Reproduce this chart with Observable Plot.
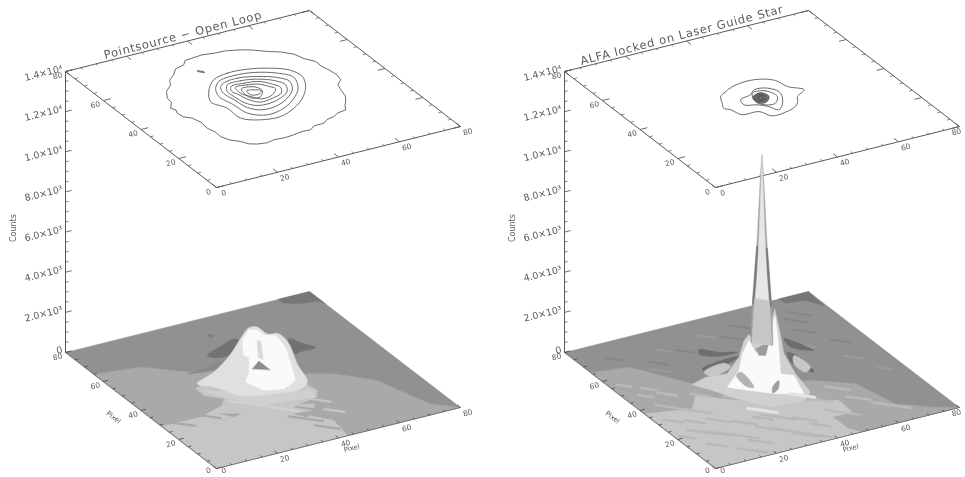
<!DOCTYPE html>
<html><head><meta charset="utf-8">
<style>html,body{margin:0;padding:0;background:#fff}svg{display:block;filter:blur(0.75px)}</style>
<script src="https://cdn.jsdelivr.net/npm/d3@7"></script>
<script src="https://cdn.jsdelivr.net/npm/@observablehq/plot@0.6"></script>
</head><body><div id="chart"></div>
<script>
// ---------- axis values ----------
const pixelMajor=[0,20,40,60,80];
const pixelMinor=[5,10,15,25,30,35,45,50,55,65,70,75];
const countMajor=[0,2000,4000,6000,8000,10000,12000,14000];
const countMinor=[500,1000,1500,2500,3000,3500,4500,5000,5500,6500,7000,7500,8500,9000,9500,10500,11000,11500,12500,13000,13500];
const countLabels=["0","2.0×10³","4.0×10³","6.0×10³","8.0×10³","1.0×10⁴","1.2×10⁴","1.4×10⁴"];
const titles=["Pointsource − Open Loop","ALFA locked on Laser Guide Star"];
const floorCorners=[[0,0],[80,0],[80,80],[0,80]];

// ---------- left: contours on the top plane (pixel, pixel) ----------
const leftContourOuter=[[35.7,70.5],[39,70.9],[42.6,70.2],[46,70],[50.3,68.5],[53,67],[56.4,64.2],[59.5,62.2],[62.1,59.3],[63.2,55.6],[65.1,52.7],[65,49.5],[65.7,46.6],[66.1,43],[65.4,39.9],[63.2,37.8],[62.2,34.7],[61.4,31],[59.7,28],[58.2,26],[57,23.6],[54,23],[51.9,21.7],[49.2,21],[47.3,19.5],[44,19.4],[41.9,17.8],[39,18],[36.1,17.4],[33,17],[29.6,17.4],[27,16.7],[24.1,17.3],[22,18.6],[20.8,20.8],[18.6,23],[17.4,26],[17.6,29],[16.8,32.1],[17.2,36],[16.3,39.3],[14.6,41],[14.2,43.8],[14.9,45.5],[14.2,47.3],[16.2,50],[16.6,52.9],[18.6,56.5],[21.7,59.4],[23,62],[25.7,64.2],[28,67],[31.4,68.1],[33,70]];
const leftContour2=[[34,56.4],[39.5,58.1],[45.7,57.6],[51,55.5],[55.8,51.8],[57,46.6],[54.6,41],[50,35.3],[44.7,31.2],[38.7,28.6],[32.7,29.5],[28.3,33],[28.2,39.9],[26.2,45.5],[29.6,51.8]];
const leftContour3=[[34.7,54.9],[40.4,56],[46.3,55],[51.9,51.6],[54.6,47.2],[52.2,41.1],[47.9,36.4],[42.2,32.5],[36,31.2],[31.6,34.7],[30.9,40.8],[29.9,47.1],[31.6,51.5]];
const leftContour4=[[35.3,53.4],[40.4,54.2],[45.8,52.5],[50.5,49.3],[52.3,45.6],[50.2,41],[46.3,37.3],[40.7,34.5],[35.9,34.7],[33.4,37.7],[32.6,43.4],[32.1,48.2],[33.2,51.5]];
const leftContour5=[[35.7,52],[40.3,52.4],[45,51.1],[49,47.8],[50.2,44.5],[48.4,40.8],[44.6,38.2],[40.5,36.9],[36.5,37.4],[34.4,40.1],[33.6,45.1],[33.6,48.6]];
const leftContour6=[[36.2,50.7],[40.4,50.7],[44.6,49.7],[47.1,46.5],[48.1,43.7],[46.4,40.7],[42.6,39.2],[38.4,38.7],[36.3,41.4],[35.4,45.3],[34.8,48.4]];
const leftContour7=[[36.9,49.6],[40.7,49.4],[43.8,48.3],[45.5,45.8],[46.4,43.7],[43.7,41],[39.9,40.2],[37.8,42.9],[36.3,46]];
const leftContour8=[[37.9,48.1],[40.9,48],[42.3,46.8],[42.5,44.4],[40.2,41.6],[37.6,41.9],[37.1,44.5]];
const leftContour9=[[38.6,46.4],[40.7,46],[42.2,44.5],[40.6,43.1],[38.3,43.8]];
const leftSpeck=[[32.8,62.8],[34.1,61.4],[34.1,61.9],[32.8,63.2]];

// ---------- right: contours on the top plane ----------
const rightContourOuter=[[30.6,46.7],[33,48.3],[35.1,49.6],[40.4,51.2],[45.6,50.7],[49.3,47.9],[50.3,43.2],[53.4,39.3],[49.6,36.7],[48,34],[45.9,31.8],[41.6,30.1],[37.1,29.9],[35.2,33.9],[30,34.4],[28.8,38.5],[27.6,40.2],[28.8,43]];
const rightContour2=[[34.5,42.4],[38.5,43.7],[41,45.8],[44.8,45],[46.5,40.6],[43.2,34.4],[40.7,32.2],[39.3,35.2],[37,37.6],[33.7,39.3]];
const rightContour3=[[39.5,44.3],[43.5,43.8],[44.6,39.3],[42,36.1],[39,36.5],[37.6,39.6]];
const rightCoreA=[[38.1,41.6],[40.5,43.3],[42.3,42.6],[42.3,40.1],[39.9,37.9],[38,38.7]];
const rightCoreB=[[38.5,41.4],[40.4,42.7],[41.8,42.2],[41.8,40.1],[39.9,38.6],[38.5,39.1]];
const rightCoreC=[[38.9,41.2],[40.4,42],[41.3,41.5],[41.3,40.2],[40,39.2],[39.1,39.7]];
const rightCoreD=[[39.4,40.9],[40.4,41.3],[40.8,40.9],[40.7,40.2],[39.9,40],[39.3,40.3]];

// ---------- left: shaded surface regions ----------
const leftBackCorner=[[69.7,80],[80,80],[80,71.5],[78.8,74],[73.8,74.8],[69.9,77.3]];
const leftMidBand=[[0,65],[13.9,62.6],[23.8,54],[29.3,52.2],[51.3,38.3],[59.6,34],[68.1,24.9],[71.9,11.5],[73.8,5.8],[80,0],[0,0]];
const leftFront=[[0,29],[12.6,28.8],[21.7,32.1],[24.3,35.3],[20.4,39.6],[20.5,44.2],[30.7,49.2],[49.2,34.9],[50.1,27.5],[45.4,20.8],[40,15.6],[44.5,9.7],[43,0],[0,0]];
const leftApron=[[21.2,42.7],[26.4,33.5],[33.2,26.7],[47.5,24.3],[49,29.2],[38,31],[28,38]];
const leftMountain=[[22.5,46.6],[30.4,50.5],[40.4,57.8],[47.7,64.4],[53.3,69],[55.6,68.3],[55.9,63.5],[58.8,62],[58.1,55.5],[53.7,44],[50.3,33.1],[46.5,30.5],[38.3,31.4],[29.5,34.9],[25.6,42.7]];
const leftCore=[[47.6,63.3],[52.7,68],[54.8,66.9],[54.6,63.1],[57.5,61.5],[56.2,54.2],[52.1,44.8],[47.9,35.5],[42.4,32.7],[36.9,34.4],[35,41.2],[39.1,45.9],[43.9,53.7],[43.2,55.3]];
const leftRidge=[[51.3,61.3],[52.1,60.7],[46.6,50.5],[46,52.2]];
const leftTriangle=[[41,47.2],[45.1,50.4],[45,44.4]];
const leftWingA=[[34.1,60],[40.3,63],[46.1,65.2],[46.8,63.7],[40.4,57.8],[35.8,57.5]];
const leftWingB=[[59.7,58.1],[61.6,54.1],[63.4,49.9],[59,49.9],[56.1,49.6]];
const leftBlob=[[40.8,70.8],[42.4,69.5],[40.8,69.1]];
const leftShadow=[[23.3,53.1],[30.4,53.9],[37.7,55.2],[32.3,51.8]];
const leftPatchA=[[18.6,27.9],[23.6,25.3],[20.9,24.5]];
const leftPatchB=[[36.8,18.4],[42.8,17.5],[39,14.9]];
const leftPatchC=[[41.7,22.7],[47.9,24],[45.8,20.6]];
const leftMidStreaks=[[20.2,37.5,3],[42.5,18.8,3],[38.1,14.3,3.5],[40.7,7.1,2.5],[13.2,29.7,4],[5.5,27.9,3]];
const leftLightStreaks=[[47.7,21.9,2],[47.8,14.9,2]];
const leftPaleStreaks=[[28.9,29.5,4],[35.9,22.3,3]];

// ---------- right: shaded surface regions ----------
const rightBackCorner=[[70.3,80],[80,80],[79.3,70.7],[76.4,75.7],[70.6,76.9]];
const rightMidBand=[[0,66],[11.2,64],[21.5,47.1],[52.3,33.2],[62,25.9],[65.4,10.2],[73.4,3.7],[80,0],[0,0]];
const rightFront=[[0.3,37.6],[13.5,34.1],[18.6,40.6],[27.7,32.4],[44.2,23.7],[52.5,19.4],[52,11.5],[45.5,11.6],[45.8,3.3],[48,0],[0,0]];
const rightMountain=[[21.3,46.8],[27,48.8],[33.4,47.8],[41.7,54.9],[48.3,62.9],[51.4,65.4],[50.1,59.7],[57.7,64.9],[66.1,75.4],[60.3,63.5],[53.9,50.8],[50.3,38.9],[48.1,27.4],[44.4,24],[33.8,24.6],[28.6,31.9],[24.3,41]];
const rightCore=[[49.5,62.3],[47.4,55.3],[55,60.5],[64,71.9],[56.8,58.5],[46.6,40.8],[49.4,38.2],[46,27.4],[38.9,31.1],[33.4,36.3],[29.1,40.8],[37.4,48],[43.6,56.2]];
const rightDiamond=[[48.5,57.1],[53.9,58.8],[48.8,52.3],[47.2,53.2]];
const rightHole=[[40.3,34.9],[44,37.6],[41.2,33.3],[38.5,31.8]];
const rightArc=[[37.3,46.9],[35.7,37.3],[34.1,38.2],[35.1,45.7]];
const rightFanA=[[34.1,63.9],[38.3,60.1],[42.9,57.7],[36.9,57.9],[32.8,61.8]];
const rightFanB=[[28.8,53.6],[35.4,55.4],[41.9,55.3],[36.4,52.6],[28.8,49.7]];
const rightFanC=[[58.7,58.6],[62.4,48.6],[57.7,53.4]];
const rightFanD=[[55.2,51.2],[56.8,45.8],[55.4,37.3],[53.6,40.6],[52.9,45.6]];
const rightFanLightA=[[28.2,51.7],[36,53.7],[36.6,51.1],[28.8,48.3]];
const rightFanLightB=[[55.8,48.6],[56.2,40.4],[53.3,38.4],[53.1,44.3]];

// streaks: pixel x, pixel y, half length in pixels
const rightMidStreaks=[[8.5,20.7,3],[16.5,14.2,4],[29.6,10.7,3.5],[14.9,4.6,3],[36.3,3.7,2.5],[32.3,18.5,3.5],[16.3,24.6,2.5],[5,30,2],[10,27,2],[22,20,2.5],[26,14,2.5],[33,6,2.5],[20,8,2.5],[8,12,2],[12,18,2.5],[28,20,2],[40,9,2],[38,14,2.5],[3,20,1.5]];
const rightLightStreaks=[[13,33.2,4],[49.5,12.8,3.5],[6,46.8,1.5],[7.6,38.8,2],[20,40,2],[12,45,2],[4,55,1.5],[58,18,2.5],[62,12,2],[56,26,2.5],[66,8,2],[28,34,2.5],[9,50,1.5],[48,22,2.5]];
const rightBrightStreaks=[[30.3,24.1,3],[45,26.7,2.5]];
const rightDarkStreaks=[[46.8,64.9,3],[67.5,66.6,2.5],[70.5,69.6,2.5],[20,62,2],[30,65,2],[52,70,2.5],[60,70,2],[66,60,2.5],[72,50,2],[10,70,1.5]];
const rightBaseStreaks=[[18,58,2],[62,52,2],[40,70,2],[70,40,2],[74,30,1.5],[25,68,1.5]];

// ---------- right: central spike (counts, half width in pixels) ----------
const spikeCounts=[11200,9800,8100,6500,5100,4000,2300,1800];
const spikeHalfWidth=[0.08,0.4,0.75,1.1,1.55,1.9,2.2,2.2];
const spikeCoreWidth=[0,0.2,0.45,0.72,1.05,1.4,1.8,1.9];
const spikeStripCounts=[6600,5100,3700];
const spikeStripOuter=[1.12,1.55,1.95];
const spikeStripInner=[0.72,1.05,1.4];
const spikeFootCounts=[4000,2300,1800];
const spikeFootWidth=[1.5,1.9,2];
const spikeX=40, spikeY=40;

// ---------- view of the data cube ----------
const perPixelX=[3.05,-0.7625], perPixelY=[-1.8875,-1.45], perCount=-0.02007;
const panels=[{ox:216,oy:468},{ox:715,oy:468}];
const TOP=14000, MAXP=80;
const sx=(p,x,y)=>p.ox+perPixelX[0]*x+perPixelY[0]*y;
const sy=(p,x,y,z=0)=>p.oy+perPixelX[1]*x+perPixelY[1]*y+perCount*z;

const gD="#777", gB="#919191", gM="#a9a9a9", gL="#c6c6c6", gA="#d0d0d0", gP="#e0e0e0", gW="#fafafa", ink="#5a5a5a";
const FONT="DejaVu Sans";

function poly(p,pts,fill,curve="linear-closed",z=0){
  return Plot.line(pts,{x:d=>sx(p,d[0],d[1]),y:d=>sy(p,d[0],d[1],z),fill,stroke:fill,strokeWidth:0.4,curve});
}
function contour(p,pts,width=0.9,curve="catmull-rom-closed"){
  return Plot.line(pts,{x:d=>sx(p,d[0],d[1]),y:d=>sy(p,d[0],d[1],TOP),stroke:ink,strokeWidth:width,curve});
}
function streaks(p,rows,stroke,strokeWidth){
  return Plot.link(rows,{x1:d=>sx(p,d[0]-d[2],d[1]+d[2]),y1:d=>sy(p,d[0]-d[2],d[1]+d[2]),x2:d=>sx(p,d[0]+d[2],d[1]-d[2]),y2:d=>sy(p,d[0]+d[2],d[1]-d[2]),stroke,strokeWidth,strokeLinecap:"round"});
}
function pixelTicks(p,z,values,len,back,width){
  const t=(x1,y1,x2,y2)=>({x1:sx(p,x1,y1),y1:sy(p,x1,y1,z),x2:sx(p,x2,y2),y2:sy(p,x2,y2,z)});
  const rows=values.flatMap(v=>{
    const r=[t(v,0,v,len),t(0,v,len,v)];
    if(back) r.push(t(v,MAXP,v,MAXP-len),t(MAXP,v,MAXP-len,v));
    return r;});
  return Plot.link(rows,{x1:"x1",y1:"y1",x2:"x2",y2:"y2",stroke:ink,strokeWidth:width});
}
function frame(p){
  const ring=[...floorCorners,floorCorners[0]];
  const front=[[0,MAXP],[0,0],[MAXP,0]];
  return [
    Plot.line(ring,{x:d=>sx(p,d[0],d[1]),y:d=>sy(p,d[0],d[1],TOP),stroke:ink,strokeWidth:1}),
    Plot.line(front,{x:d=>sx(p,d[0],d[1]),y:d=>sy(p,d[0],d[1]),stroke:"#6a6a6a",strokeWidth:0.8}),
    pixelTicks(p,TOP,pixelMajor,2.4,true,0.9),
    pixelTicks(p,TOP,pixelMinor,1.1,true,0.7),
    pixelTicks(p,0,pixelMajor,1.6,false,1),
    pixelTicks(p,0,pixelMinor,1,false,1),
    Plot.link([0,TOP],{x1:()=>sx(p,0,MAXP),y1:()=>sy(p,0,MAXP,0),x2:()=>sx(p,0,MAXP),y2:()=>sy(p,0,MAXP,TOP),stroke:ink,strokeWidth:1}),
    Plot.link(countMajor,{x1:()=>sx(p,0,MAXP),y1:d=>sy(p,0,MAXP,d),x2:()=>sx(p,2,MAXP),y2:d=>sy(p,2,MAXP,d),stroke:ink,strokeWidth:0.9}),
    Plot.link(countMinor,{x1:()=>sx(p,0,MAXP),y1:d=>sy(p,0,MAXP,d),x2:()=>sx(p,1,MAXP),y2:d=>sy(p,1,MAXP,d),stroke:ink,strokeWidth:0.8}),
  ];
}
const spaced=(ls)=>(i,s,v,d,c,next)=>{const g=next(i,s,v,d,c);g.style.letterSpacing=ls;return g;};
function labels(p,title){
  const txt={fill:ink,fontFamily:FONT,stroke:"none"};
  const inX=v=>Math.min(v,956), inY=v=>Math.min(v,470);
  const base=[0,TOP].flatMap(z=>[
    Plot.text(pixelMajor,{x:v=>inX(sx(p,v,-3.8)),y:v=>inY(sy(p,v,-3.8,z)),text:v=>String(v),rotate:-14,fontSize:7.5,...txt}),
    Plot.text(pixelMajor,{x:v=>sx(p,-3.4,v-1.3),y:v=>inY(sy(p,-3.4,v-1.3,z)),text:v=>String(v),rotate:-14,fontSize:7.5,...txt}),
  ]);
  return [...base,
    Plot.text(countMajor,{x:()=>sx(p,0,MAXP),y:d=>sy(p,0,MAXP,d),text:(d,i)=>countLabels[i],textAnchor:"end",dx:-3,dy:-3,rotate:-14,fontSize:9.5,...txt}),
    Plot.text(["Counts"],{x:()=>sx(p,0,MAXP),y:()=>sy(p,0,MAXP,6200),dx:-52,rotate:-90,fontSize:8,...txt}),
    Plot.text(["Pixel"],{x:()=>sx(p,40,-7),y:()=>sy(p,40,-7),rotate:-14,fontSize:7,...txt}),
    Plot.text(["Pixel"],{x:()=>sx(p,-9,40),y:()=>sy(p,-9,40),rotate:37,fontSize:7,...txt}),
    Plot.text([title],{x:()=>sx(p,38.5,MAXP),y:()=>sy(p,38.5,MAXP,TOP),dy:-7,rotate:-14.5,fontSize:11.5,...txt,render:spaced("0.75px")}),
  ];
}
function spikePoly(p,counts,outer,inner,fill){
  const pts=[...counts.map((z,i)=>[spikeX-outer[i],spikeY+outer[i],z]),
             ...counts.map((z,i)=>[spikeX+inner[i],spikeY-inner[i],z]).reverse()];
  return Plot.line(pts,{x:d=>sx(p,d[0],d[1]),y:d=>sy(p,d[0],d[1],d[2]),fill,stroke:fill,strokeWidth:0.4,curve:"linear-closed"});
}

const L=panels[0], R=panels[1];
const smooth="catmull-rom-closed";
const marks=[
  // LEFT surface
  poly(L,floorCorners,gB),
  poly(L,leftBackCorner,gD),
  poly(L,leftMidBand,gM),
  poly(L,leftFront,gL),
  poly(L,leftPatchA,gM),poly(L,leftPatchB,gM),poly(L,leftPatchC,gM),
  streaks(L,leftMidStreaks,gM,2.2),
  streaks(L,leftLightStreaks,gL,2.2),
  poly(L,leftShadow,"#8a8a8a",smooth),
  poly(L,leftWingA,"#727272",smooth),poly(L,leftWingB,"#727272",smooth),poly(L,leftBlob,"#7c7c7c",smooth),
  poly(L,leftApron,gA),
  streaks(L,leftPaleStreaks,gA,2.6),
  poly(L,leftMountain,gP,smooth),
  poly(L,leftCore,gW),
  poly(L,leftRidge,"#d8d8d8"),
  poly(L,leftTriangle,"#8c8c8c"),
  ...frame(L),
  contour(L,leftContourOuter,0.9,"linear-closed"),
  contour(L,leftContour2),contour(L,leftContour3),contour(L,leftContour4),contour(L,leftContour5),
  contour(L,leftContour6),contour(L,leftContour7),contour(L,leftContour8),contour(L,leftContour9),
  contour(L,leftSpeck,1),
  ...labels(L,titles[0]),
  // RIGHT surface
  poly(R,floorCorners,gB),
  poly(R,rightBackCorner,gD),
  streaks(R,rightDarkStreaks,"#868686",2),
  streaks(R,rightBaseStreaks,"#9c9c9c",2),
  poly(R,rightMidBand,gM),
  poly(R,rightFront,gL),
  streaks(R,rightMidStreaks,"#b8b8b8",2.4),
  streaks(R,rightLightStreaks,"#bababa",2.4),
  poly(R,rightFanA,"#6e6e6e",smooth),poly(R,rightFanB,"#6e6e6e",smooth),
  poly(R,rightFanC,"#6e6e6e",smooth),poly(R,rightFanD,"#6e6e6e",smooth),
  poly(R,rightFanLightA,gL,smooth),poly(R,rightFanLightB,gL,smooth),
  poly(R,rightMountain,gA),
  poly(R,rightCore,gW),
  poly(R,rightDiamond,"#9c9c9c"),poly(R,rightHole,"#a0a0a0",smooth),poly(R,rightArc,"#b4b4b4",smooth),
  streaks(R,rightBrightStreaks,"#e4e4e4",3),
  ...frame(R),
  contour(R,rightContourOuter),contour(R,rightContour2),contour(R,rightContour3),
  contour(R,rightCoreA,1.3),contour(R,rightCoreB,1.6),contour(R,rightCoreC,1.8),contour(R,rightCoreD,2),
  ...labels(R,titles[1]),
  // spike
  spikePoly(R,spikeCounts,spikeHalfWidth,spikeHalfWidth,"#a2a2a2"),
  spikePoly(R,spikeStripCounts,spikeStripOuter,spikeStripOuter,"#7a7a7a"),
  spikePoly(R,spikeCounts,spikeCoreWidth,spikeCoreWidth,"#e6e6e6"),
  spikePoly(R,spikeFootCounts,spikeFootWidth,spikeFootWidth,"#c6c6c6"),
];

const chart=Plot.plot({
  width:965,height:477,margin:0,
  x:{domain:[0,965],range:[0,965],axis:null},
  y:{domain:[0,477],range:[0,477],axis:null},
  style:{background:"#fff"},
  marks
});
document.getElementById("chart").append(chart);
</script></body></html>
